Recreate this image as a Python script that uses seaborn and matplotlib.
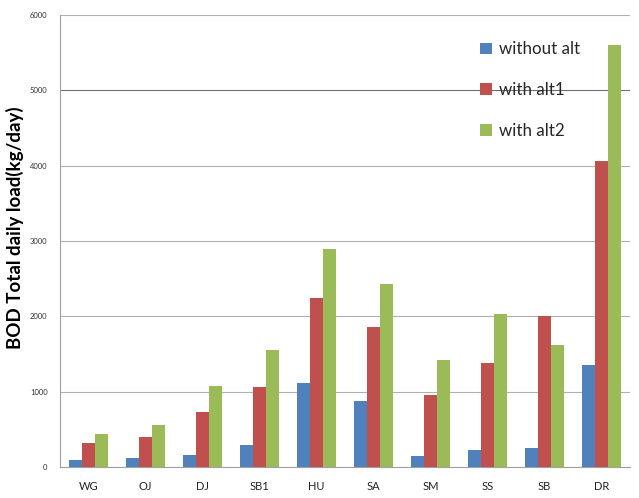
import pandas as pd
import matplotlib.pyplot as plt
import seaborn as sns

# data
sites = ['WG', 'OJ', 'DJ', 'SB1', 'HU', 'SA', 'SM', 'SS', 'SB', 'DR']
without_alt = [100, 122, 162, 289, 1120, 876, 141, 233, 260, 1350]
with_alt1 = [315, 398, 727, 1064, 2250, 1860, 955, 1380, 2000, 4060]
with_alt2 = [437, 555, 1072, 1550, 2890, 2435, 1420, 2030, 1620, 5600]
series = ['without alt', 'with alt1', 'with alt2']

df = pd.DataFrame({'site': sites, series[0]: without_alt,
                   series[1]: with_alt1, series[2]: with_alt2})
long = df.melt(id_vars='site', var_name='scenario', value_name='load')

sns.set_style('white')
plt.rcParams['font.family'] = ['Lato', 'DejaVu Sans']

fig = plt.figure(figsize=(6.39, 4.98), dpi=100)
ax = fig.add_axes([0.094, 0.062, 0.892, 0.908])

palette = ['#4F81BD', '#C0504D', '#9BBB59']
sns.barplot(data=long, x='site', y='load', hue='scenario', palette=palette,
            width=0.67, gap=0, saturation=1, linewidth=0, ax=ax, zorder=3)

ax.set_ylim(0, 6000)
ax.set_yticks(range(0, 6001, 1000))
ax.yaxis.grid(True, color='#b0b0b0', linewidth=0.8, zorder=0)
ax.get_ygridlines()[5].set_color('#707070')
ax.tick_params(axis='y', labelsize=5.5, length=0, pad=9, labelcolor='#333333')
ax.tick_params(axis='x', labelsize=8, length=0, pad=10, labelcolor='#222222')
ax.set_xlabel('')
ax.set_ylabel('BOD Total daily load(kg/day)', fontsize=13.5, fontweight='bold',
              color='black')
ax.yaxis.set_label_coords(-0.064, 0.53)

for s in ['top', 'right']:
    ax.spines[s].set_visible(False)
for s in ['left', 'bottom']:
    ax.spines[s].set_color('#a0a0a0')
    ax.spines[s].set_linewidth(0.8)

ax.legend(loc='upper left', bbox_to_anchor=(0.71, 0.975), frameon=False,
          fontsize=12.2, labelspacing=1.45, handlelength=0.7, handleheight=0.7,
          handletextpad=0.45, title=None)

fig.savefig('out.png', dpi=100)
